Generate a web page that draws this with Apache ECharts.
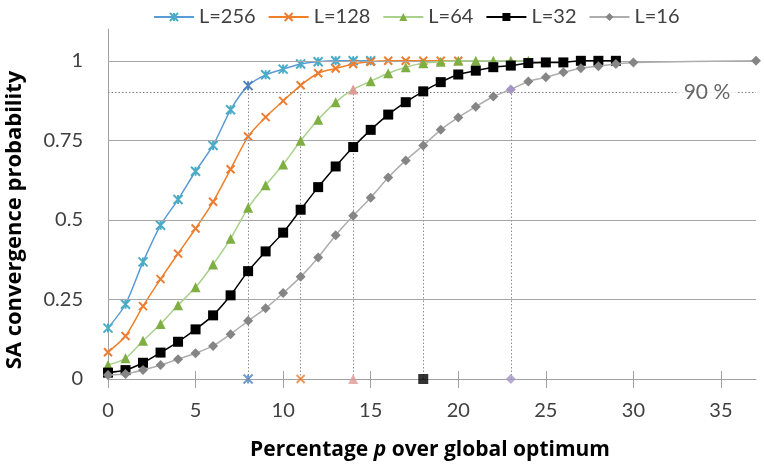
<!DOCTYPE html>
<html><head><meta charset="utf-8">
<script src="https://cdn.jsdelivr.net/npm/echarts@6/dist/echarts.min.js"></script>
<style>html,body{margin:0;padding:0;background:#fff}#c{width:764px;height:468px}</style>
</head><body><div id="c"></div>
<script>
// ---- data ----
const names = ['L=256', 'L=128', 'L=64', 'L=32', 'L=16'];
const x256 = [0,1,2,3,4,5,6,7,8,9,10,11,12,13,14,15];
const y256 = [0.16,0.235,0.368,0.483,0.564,0.653,0.734,0.846,0.922,0.956,0.974,0.99,0.997,1,1,1];
const x128 = [0,1,2,3,4,5,6,7,8,9,10,11,12,13,14,15,16,17,18,19,20];
const y128 = [0.084,0.135,0.229,0.314,0.394,0.473,0.557,0.659,0.762,0.823,0.874,0.923,0.961,0.976,0.99,0.997,1,1,1,1,1];
const x64 = [0,1,2,3,4,5,6,7,8,9,10,11,12,13,14,15,16,17,18,19,20,21,22,23,24];
const y64 = [0.044,0.065,0.12,0.173,0.232,0.288,0.36,0.441,0.538,0.609,0.674,0.749,0.815,0.87,0.91,0.936,0.961,0.98,0.992,0.997,1,1,1,1,1];
const x32 = [0,1,2,3,4,5,6,7,8,9,10,11,12,13,14,15,16,17,18,19,20,21,22,23,24,25,26,27,28,29];
const y32 = [0.02,0.028,0.051,0.083,0.117,0.156,0.2,0.263,0.339,0.401,0.46,0.532,0.603,0.668,0.729,0.783,0.831,0.87,0.904,0.933,0.957,0.969,0.98,0.985,0.993,0.995,0.995,1,1,1];
const x16 = [0,1,2,3,4,5,6,7,8,9,10,11,12,13,14,15,16,17,18,19,20,21,22,23,24,25,26,27,28,29,30,37];
const y16 = [0.0125,0.016,0.028,0.044,0.062,0.081,0.104,0.141,0.183,0.222,0.27,0.321,0.382,0.452,0.513,0.57,0.633,0.687,0.734,0.783,0.822,0.856,0.888,0.91,0.935,0.948,0.964,0.977,0.983,0.99,0.995,1];
const crossX = [8, 11, 14, 18, 23];   // p where each series reaches 90 %
const level = 0.9;
const levelLabel = '90 %';
const levelLabelX = 34.2;
const xTicks = [0,5,10,15,20,25,30,35];
const yTicks = [0,0.25,0.5,0.75,1];

// ---- styling ----
const FONT = 'Lato, "Open Sans", sans-serif';
const TFONT = '"Open Sans", Lato, sans-serif';
const STAR = 'path://M0,0L10,10M10,0L0,10M5,0L5,10';
const XMARK = 'path://M0,0L10,10M10,0L0,10';
const cfg = [
  {x:x256, y:y256, line:'#5B9BD5', mk:'#4BACC6', sym:STAR, size:9, stroke:true, hl:'#4F81BD'},
  {x:x128, y:y128, line:'#F07F28', mk:'#ED7D31', sym:XMARK, size:8, stroke:true, hl:'#ED7D31'},
  {x:x64,  y:y64,  line:'#A9D18E', mk:'#7FAE42', sym:'triangle', size:10, stroke:false, hl:'#DE9A96'},
  {x:x32,  y:y32,  line:'#000000', mk:'#000000', sym:'rect', size:10, stroke:false, hl:'#000000'},
  {x:x16,  y:y16,  line:'#ADADAD', mk:'#858585', sym:'diamond', size:10, stroke:false, hl:'#A596C6'}
];

const dotted = {color:'#7F7F7F', type:[1.5,2], width:1};
const series = [];
// gridlines + dotted reference lines
series.push({
  type:'line', data:[], silent:true, z:1,
  markLine:{
    silent:true, symbol:'none', animation:false,
    label:{show:false},
    data: yTicks.filter(v=>v>0).map(v=>({yAxis:v, lineStyle:{color:'#A6A6A6', type:'solid', width:1}}))
      .concat([[{coord:[0,level], lineStyle:dotted},{coord:[37,level]}]])
      .concat(crossX.map(v=>[{coord:[v,0], lineStyle:{color:'#8C8C8C', type:[1.5,2], width:1}},{coord:[v,level]}]))
  }
});
cfg.forEach((c,i)=>{
  const hx = crossX[i];
  series.push({
    name:names[i], type:'line', z:3+i, smooth:0.25, animation:false,
    symbol:c.sym, symbolSize:c.size, showAllSymbol:true,
    lineStyle:{color:c.line, width:1.5},
    itemStyle: c.stroke ? {color:c.mk, borderColor:c.mk, borderWidth:2} : {color:c.mk, borderColor:c.mk, borderWidth:0},
    data: c.x.map((xv,k)=>{
      const d = {value:[xv, c.y[k]]};
      if (xv === hx && c.hl !== c.mk) d.itemStyle = {color:c.hl, borderColor:c.hl};
      return d;
    })
  });
});
// markers on the p axis where each series reaches 90 %
series.push({
  type:'scatter', z:10, silent:true, animation:false, clip:false,
  data: crossX.map((v,i)=>({
    value:[v,0], symbol:cfg[i].sym, symbolSize:cfg[i].size,
    itemStyle: cfg[i].stroke ? {color:cfg[i].hl, borderColor:cfg[i].hl, borderWidth:2} : {color:cfg[i].hl}
  }))
});
// 90 % label
series.push({
  type:'scatter', z:11, silent:true, animation:false,
  symbolSize:0,
  data:[[levelLabelX, level]],
  label:{show:true, position:'inside', formatter:levelLabel, backgroundColor:'#fff',
    padding:[2,7], fontSize:21, fontFamily:FONT, color:'#404040'}
});

const chart = echarts.init(document.getElementById('c'), null, {renderer:'canvas'});
chart.setOption({
  animation:false,
  backgroundColor:'#fff',
  legend:{
    data:names, left:148, top:2, itemWidth:40, itemHeight:10, itemGap:12,
    textStyle:{fontSize:20, fontFamily:FONT, color:'#404040'}
  },
  grid:{left:108, right:8, top:29, bottom:89, containLabel:false},
  xAxis:[{
    type:'value', min:0, max:37, position:'bottom',
    axisLine:{show:true, lineStyle:{color:'#A0A0A0', width:1}},
    axisTick:{show:true, inside:false, length:9, customValues:xTicks, lineStyle:{color:'#A0A0A0'}},
    axisLabel:{show:true, customValues:xTicks, margin:22, fontSize:20, fontFamily:FONT, color:'#404040'},
    splitLine:{show:false}
  },{
    type:'value', min:0, max:37, position:'bottom',
    axisLine:{show:false},
    axisTick:{show:true, inside:true, length:8, customValues:xTicks, lineStyle:{color:'#A0A0A0'}},
    axisLabel:{show:false}, splitLine:{show:false}
  }],
  yAxis:{
    type:'value', min:0, max:1.1,
    axisLine:{show:true, lineStyle:{color:'#A0A0A0', width:1}},
    axisTick:{show:false},
    axisLabel:{customValues:yTicks, margin:25, fontSize:20, fontFamily:FONT, color:'#404040'},
    splitLine:{show:false}
  },
  graphic:[
    {type:'text', rotation:Math.PI/2, x:4, y:220,
      style:{text:'SA convergence probability', font:'bold 22px '+TFONT, fill:'#000', align:'center', verticalAlign:'top'}},
    {type:'text', x:430, y:450,
      style:{rich:{a:{font:'bold 21px '+TFONT, fill:'#000'}, i:{font:'italic bold 21px '+TFONT, fill:'#000'}},
        text:'{a|Percentage }{i|p}{a| over global optimum}', align:'center', verticalAlign:'middle'}}
  ],
  series
});
</script></body></html>
